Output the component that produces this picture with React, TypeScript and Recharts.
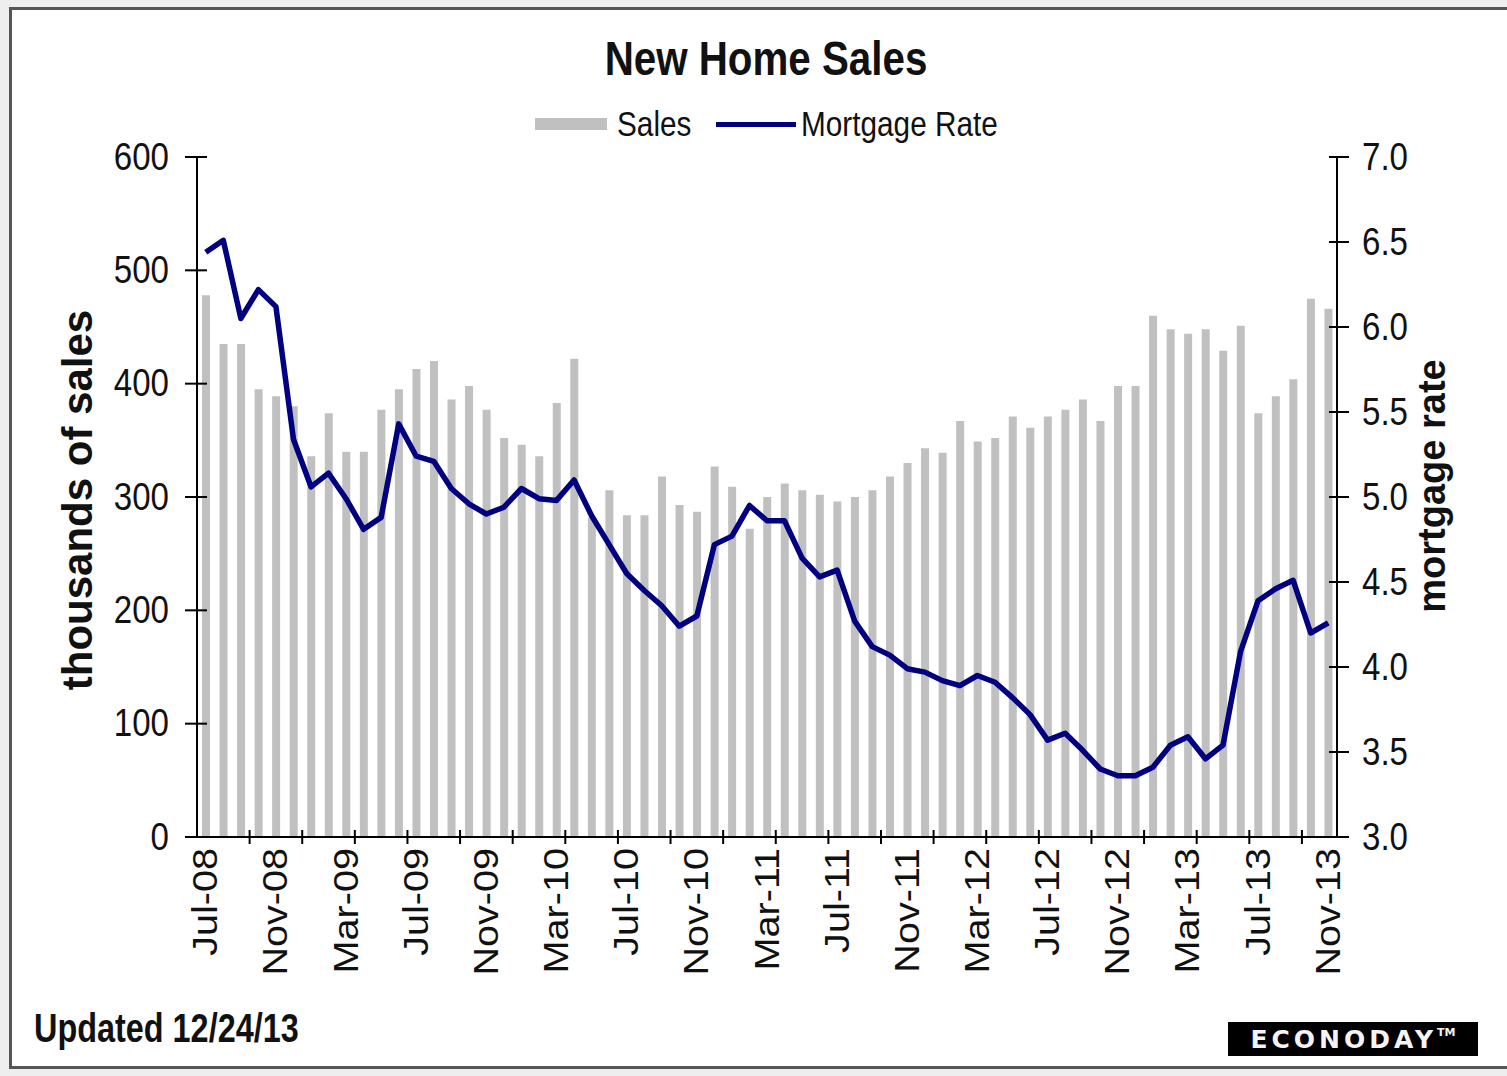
import { ComposedChart, Bar, Line, XAxis, YAxis } from 'recharts';

const MONTH_NAMES = ['Jan', 'Feb', 'Mar', 'Apr', 'May', 'Jun', 'Jul', 'Aug', 'Sep', 'Oct', 'Nov', 'Dec'];

// Jul-08 .. Nov-13
const months: string[] = [];
for (let i = 0; i < 65; i++) {
  const m = (6 + i) % 12;
  const yr = 8 + Math.floor((6 + i) / 12);
  months.push(`${MONTH_NAMES[m]}-${String(yr).padStart(2, '0')}`);
}

// thousands, annual rate
const sales = [
  478, 435, 435, 395, 389, 380, 336, 374, 340, 340, 377, 395,
  413, 420, 386, 398, 377, 352, 346, 336, 383, 422, 282, 306,
  284, 284, 318, 293, 287, 327, 309, 272, 300, 312, 306, 302,
  296, 300, 306, 318, 330, 343, 339, 367, 349, 352, 371, 361,
  371, 377, 386, 367, 398, 398, 460, 448, 444, 448, 429, 451,
  374, 389, 404, 475, 466,
];

// 30y mortgage rate, %
const mortgageRate = [
  6.44, 6.51, 6.05, 6.22, 6.12, 5.34, 5.06, 5.14, 4.99, 4.81, 4.88, 5.43,
  5.24, 5.21, 5.05, 4.96, 4.90, 4.94, 5.05, 4.99, 4.98, 5.10, 4.89, 4.72,
  4.55, 4.45, 4.36, 4.24, 4.30, 4.72, 4.77, 4.95, 4.86, 4.86, 4.64, 4.53,
  4.57, 4.27, 4.12, 4.07, 3.99, 3.97, 3.92, 3.89, 3.95, 3.91, 3.82, 3.72,
  3.57, 3.61, 3.51, 3.40, 3.36, 3.36, 3.41, 3.54, 3.59, 3.46, 3.54, 4.09,
  4.39, 4.46, 4.51, 4.20, 4.26,
];

const salesTicks = [0, 100, 200, 300, 400, 500, 600];
const rateTicks = [3.0, 3.5, 4.0, 4.5, 5.0, 5.5, 6.0, 6.5, 7.0];

const data = months.map((month, i) => ({ month, sales: sales[i], rate: mortgageRate[i] }));

const W = 1507;
const H = 1076;
const PLOT_LEFT = 197;
const PLOT_RIGHT = 1337;
const HALF_STEP = (PLOT_RIGHT - PLOT_LEFT) / months.length / 2;

const SANS = '"Liberation Sans", Arial, sans-serif';

const MonthTick = (props: any) => {
  const { x, y, payload, index } = props;
  const ty = y + 11;
  return (
    <g>
      {index % 3 === 0 && index > 0 && (
        <line x1={x - HALF_STEP} x2={x - HALF_STEP} y1={y - 7} y2={y + 7} stroke="#000" strokeWidth={2} />
      )}
      {index % 4 === 0 && (
        <text
          transform={`translate(${x}, ${ty}) rotate(-90) scale(1.1, 0.95)`}
          textAnchor="end"
          dominantBaseline="central"
          fontFamily={SANS}
          fontSize={36}
          fill="#111"
        >
          {payload.value}
        </text>
      )}
    </g>
  );
};

const LeftTick = (props: any) => {
  const { x, y, payload } = props;
  return (
    <g>
      <line x1={x - 12} x2={x + 10} y1={y} y2={y} stroke="#000" strokeWidth={2} />
      <text
        transform={`translate(${x - 28}, ${y}) scale(0.87, 1)`}
        textAnchor="end"
        dominantBaseline="central"
        fontFamily={SANS}
        fontSize={38}
        fill="#111"
      >
        {payload.value}
      </text>
    </g>
  );
};

const RightTick = (props: any) => {
  const { x, y, payload } = props;
  return (
    <g>
      <line x1={x - 8} x2={x + 12} y1={y} y2={y} stroke="#000" strokeWidth={2} />
      <text
        transform={`translate(${x + 25}, ${y}) scale(0.87, 1)`}
        textAnchor="start"
        dominantBaseline="central"
        fontFamily={SANS}
        fontSize={38}
        fill="#111"
      >
        {Number(payload.value).toFixed(1)}
      </text>
    </g>
  );
};

const App = () => {
  return (
    <div
      style={{
        position: 'absolute',
        left: 0,
        top: 0,
        width: W,
        height: H,
        overflow: 'hidden',
        background: '#eeeeee',
      }}
    >
      <div
        style={{
          position: 'absolute',
          left: 9,
          top: 7,
          width: W,
          height: 1056,
          background: '#fff',
          borderLeft: '3px solid #555',
          borderTop: '3px solid #555',
          borderBottom: '3px solid #555',
        }}
      />
      <div
        style={{
          position: 'absolute',
          left: 766,
          top: 31,
          transform: 'translateX(-50%) scaleX(0.84)',
          whiteSpace: 'nowrap',
          fontFamily: SANS,
          fontWeight: 'bold',
          fontSize: 48,
          color: '#111',
        }}
      >
        New Home Sales
      </div>
      <div
        style={{
          position: 'absolute',
          left: 535,
          top: 104,
          display: 'flex',
          alignItems: 'center',
          fontFamily: SANS,
          fontSize: 35,
          color: '#111',
          whiteSpace: 'nowrap',
        }}
      >
        <span style={{ display: 'inline-block', width: 72, height: 12, background: '#c0c0c0', marginRight: 10 }} />
        <span style={{ display: 'inline-block', transform: 'scaleX(0.85)', transformOrigin: 'left center', width: 74 }}>
          Sales
        </span>
        <span style={{ display: 'inline-block', width: 80, height: 5, background: '#000080', margin: '0 5px 0 25px' }} />
        <span style={{ display: 'inline-block', transform: 'scaleX(0.85)', transformOrigin: 'left center' }}>
          Mortgage Rate
        </span>
      </div>
      <ComposedChart
        width={W}
        height={H}
        data={data}
        margin={{ top: 157, right: 70, left: 107, bottom: 89 }}
        style={{ position: 'absolute', left: 0, top: 0 }}
      >
        <XAxis
          dataKey="month"
          interval={0}
          tickSize={0}
          tickMargin={0}
          tickLine={false}
          height={150}
          axisLine={{ stroke: '#000', strokeWidth: 2 }}
          tick={<MonthTick />}
        />
        <YAxis
          yAxisId="left"
          domain={[0, 600]}
          ticks={salesTicks}
          width={90}
          tickSize={0}
          tickMargin={0}
          tickLine={false}
          axisLine={{ stroke: '#000', strokeWidth: 2 }}
          tick={<LeftTick />}
        />
        <YAxis
          yAxisId="right"
          orientation="right"
          domain={[3, 7]}
          ticks={rateTicks}
          width={100}
          tickSize={0}
          tickMargin={0}
          tickLine={false}
          axisLine={{ stroke: '#000', strokeWidth: 2 }}
          tick={<RightTick />}
        />
        <Bar yAxisId="left" dataKey="sales" fill="#c0c0c0" barSize={8} isAnimationActive={false} />
        <Line
          yAxisId="right"
          dataKey="rate"
          type="linear"
          stroke="#000080"
          strokeWidth={5.5}
          strokeLinejoin="round"
          dot={false}
          isAnimationActive={false}
        />
      </ComposedChart>
      <div
        style={{
          position: 'absolute',
          left: 78,
          top: 500,
          transform: 'translate(-50%, -50%) rotate(-90deg)',
          whiteSpace: 'nowrap',
          fontFamily: SANS,
          fontWeight: 'bold',
          fontSize: 42,
          color: '#111',
        }}
      >
        thousands of sales
      </div>
      <div
        style={{
          position: 'absolute',
          left: 1432,
          top: 486,
          transform: 'translate(-50%, -50%) rotate(-90deg)',
          whiteSpace: 'nowrap',
          fontFamily: SANS,
          fontWeight: 'bold',
          fontSize: 38,
          color: '#111',
        }}
      >
        mortgage rate
      </div>
      <div
        style={{
          position: 'absolute',
          left: 34,
          top: 1006,
          transform: 'scaleX(0.81)',
          transformOrigin: 'left top',
          whiteSpace: 'nowrap',
          fontFamily: SANS,
          fontWeight: 'bold',
          fontSize: 40,
          color: '#111',
        }}
      >
        Updated 12/24/13
      </div>
      <div
        style={{
          position: 'absolute',
          left: 1228,
          top: 1022,
          width: 250,
          height: 34,
          background: '#000',
          color: '#f4f4f4',
          display: 'flex',
          alignItems: 'center',
          justifyContent: 'center',
          fontFamily: '"DejaVu Sans", sans-serif',
          fontWeight: 'bold',
          fontSize: 25,
          letterSpacing: 4,
        }}
      >
        ECONODAY<span style={{ fontSize: 11, alignSelf: 'flex-start', marginTop: 4, letterSpacing: 0 }}>TM</span>
      </div>
    </div>
  );
};

export default App;
